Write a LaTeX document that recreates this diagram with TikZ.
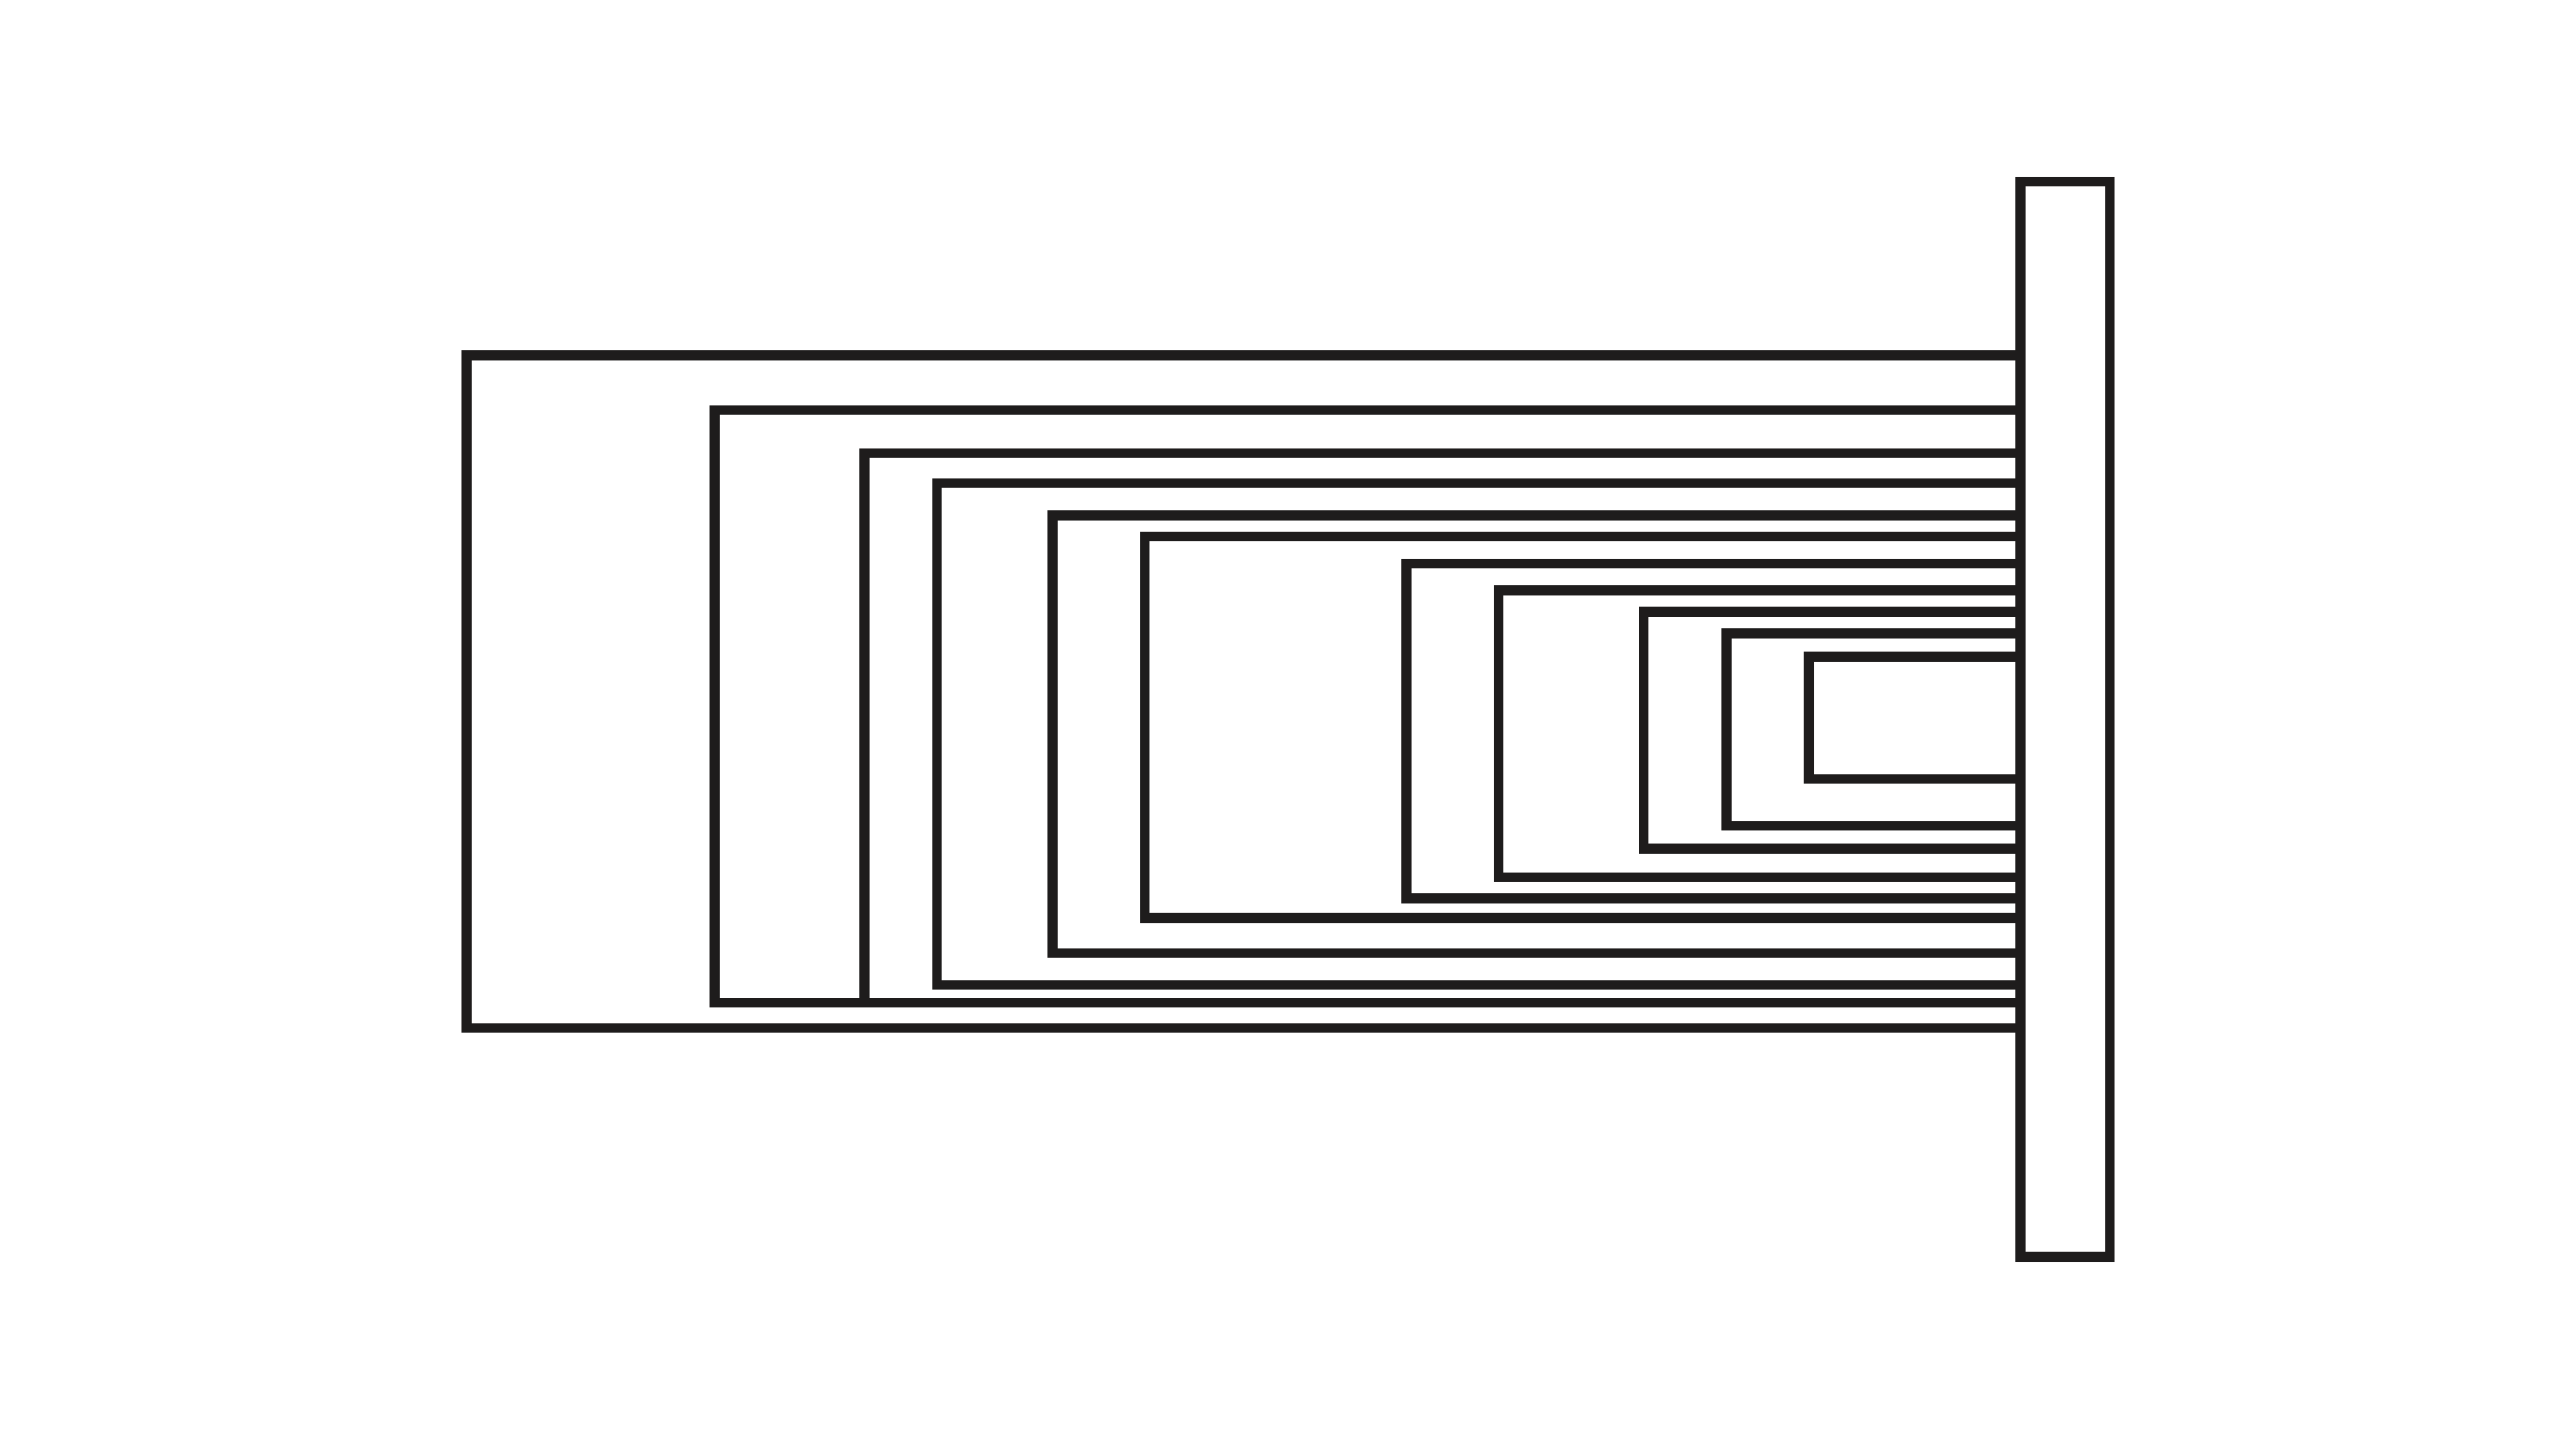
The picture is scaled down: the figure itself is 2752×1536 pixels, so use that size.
\documentclass[tikz,border=0pt]{standalone}
\usepackage{tikz}

\definecolor{inkline}{RGB}{30,28,28}
\tikzset{frame/.style={draw=inkline, line width=3.05pt}}

\begin{document}
\begin{tikzpicture}[x=0.01cm, y=-0.01cm]
      \useasboundingbox (0,0) rectangle (2752,1536);
      % bar
      \draw[frame] (2158.5,194) rectangle (2254,1342.5);
      \coordinate (bar) at (2158.5,0);
      % nested brackets: left, top, bottom
      \foreach \l/\t/\b in {498.7/379.7/1098, 763.7/438/1071, 923.7/484/1071,
                            1001/516/1052, 1124.3/550.7/1018, 1223/573/980.3,
                            1502.7/602/959.3, 1601/630.3/937, 1756/653.7/906.3,
                            1844.3/676.3/882, 1932.7/701.3/832}
        \draw[frame] (bar |- 0,\t) -| (\l,\b) -- (bar |- 0,\b);
    \end{tikzpicture}
\end{document}
